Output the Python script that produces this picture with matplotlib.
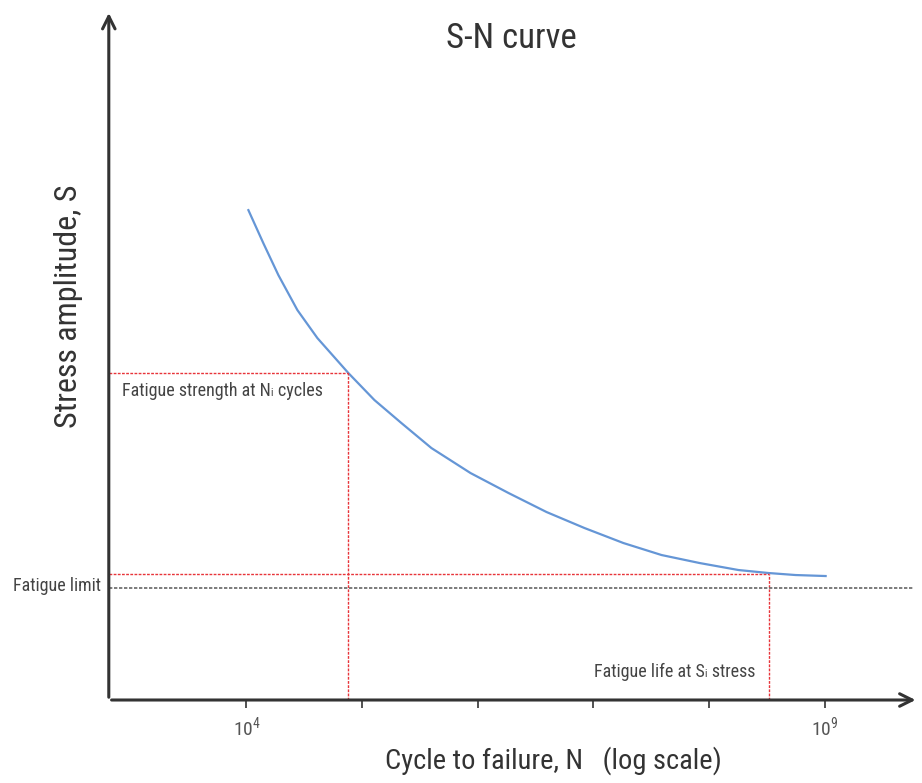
import matplotlib
matplotlib.use("Agg")
import matplotlib.pyplot as plt
from matplotlib import font_manager

# curva S-N (ciclos, amplitude de tensao em unidades arbitrarias)
ciclos = [1.04e4, 1.40e4, 1.89e4, 2.76e4, 4.11e4, 7.62e4, 1.28e5, 2.19e5,
          3.98e5, 8.67e5, 1.85e6, 3.94e6, 8.39e6, 1.82e7, 3.89e7, 8.30e7,
          1.80e8, 3.28e8, 5.61e8, 1.02e9]
tensao = [490, 457, 425, 390, 362, 327, 300, 277, 252, 227, 207, 188,
          172, 157, 145, 137, 130, 127, 125, 124]

# pontos de referencia
n_resist = 7.5e4      # ciclos N1
s_resist = 327        # resistencia a fadiga em N1
n_vida = 3.3e8        # vida a fadiga em S1
s_vida = 126
s_limite = 112        # limite de fadiga

ticks_x = [1e4, 1e5, 1e6, 1e7, 1e8, 1e9]
rotulos_x = ["10$^4$", "", "", "", "", "10$^9$"]

nomes = {f.name for f in font_manager.fontManager.ttflist}
candidatas = ["Liberation Sans Narrow", "Roboto Condensed", "Open Sans Condensed", "Roboto", "DejaVu Sans"]
fonte = [f for f in candidatas if f in nomes] + ["DejaVu Sans"]
plt.rcParams["font.family"] = fonte
plt.rcParams["font.stretch"] = "condensed"
plt.rcParams["mathtext.fontset"] = "custom"
plt.rcParams["mathtext.rm"] = fonte[0]

cor_texto = "#333333"

fig = plt.figure(figsize=(9.22, 7.83), dpi=100)
ax = fig.add_axes([0.118, 0.106, 0.878, 0.881])
ax.set_xscale("log")
ax.set_xlim(10**2.81, 10**9.81)
ax.set_ylim(0, 690)

for lado in ax.spines.values():
    lado.set_visible(False)

# eixos com setas
seta = dict(arrowstyle="->,head_length=0.9,head_width=0.45", lw=2.2, color="#333333")
ax.annotate("", xy=(1, 0), xytext=(0, 0), xycoords="axes fraction", arrowprops=seta)
ax.annotate("", xy=(0, 1), xytext=(0, 0), xycoords="axes fraction", arrowprops=seta)

ax.plot(ciclos, tensao, color="#6596d6", lw=1.6)

vermelho = "#e8343a"
estilo = (0, (2, 1))
ax.plot([10**2.81, n_resist], [s_resist, s_resist], color=vermelho, lw=1, ls=estilo)
ax.plot([n_resist, n_resist], [0, s_resist], color=vermelho, lw=1, ls=estilo)
ax.plot([10**2.81, n_vida], [s_vida, s_vida], color=vermelho, lw=1, ls=estilo)
ax.plot([n_vida, n_vida], [0, s_vida], color=vermelho, lw=1, ls=estilo)
ax.plot([10**2.81, 10**9.76], [s_limite, s_limite], color="#666666", lw=1.2, ls=estilo)

ax.set_xticks(ticks_x)
ax.set_xticklabels(rotulos_x)
ax.xaxis.set_minor_locator(matplotlib.ticker.NullLocator())
ax.tick_params(axis="x", direction="out", length=6, width=1.2, color="#333333",
               labelsize=14, labelcolor="#555555", pad=5)
ax.set_yticks([])

fig.text(0.555, 0.972, "S-N curve", ha="center", va="top", fontsize=25, color=cor_texto)
fig.text(0.6, 0.029, "Cycle to failure, N   (log scale)", ha="center", va="center",
         fontsize=20.5, color=cor_texto)
fig.text(0.074, 0.609, "Stress amplitude, S", rotation=90, ha="center", va="center",
         fontsize=23, color=cor_texto)

ax.text(10**2.92, s_resist - 18, "Fatigue strength at N\u1d62 cycles", ha="left", va="center",
        fontsize=13, color="#444444")
ax.text(-0.01, s_limite + 2, "Fatigue limit", transform=ax.get_yaxis_transform(),
        ha="right", va="center", fontsize=13, color="#444444")
ax.text(n_vida / 1.3, 28, "Fatigue life at S\u1d62 stress", ha="right", va="center",
        fontsize=13, color="#444444")

fig.savefig("out.png", dpi=100)
